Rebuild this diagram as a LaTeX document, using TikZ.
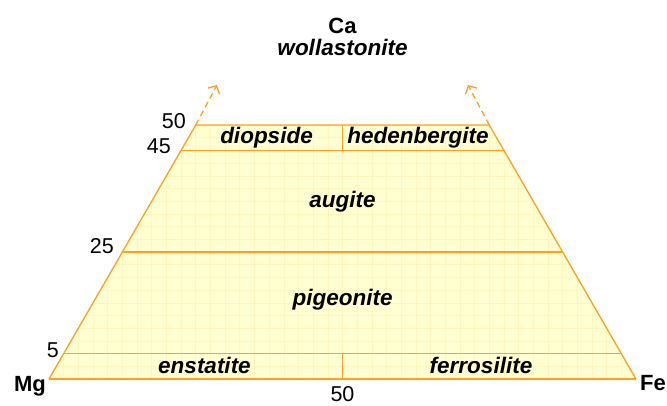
\documentclass[tikz,border=0pt]{standalone}
\usepackage{fontspec}
\setmainfont{Liberation Sans}
\usetikzlibrary{arrows.meta}
\definecolor{lineorange}{RGB}{255,160,30}
\definecolor{fillyellow}{RGB}{255,255,210}
\definecolor{gridyellow}{RGB}{255,246,190}
\begin{document}
\begin{tikzpicture}[x=1pt, y=-1pt, >={Straight Barb[length=6pt, width=13pt, line width=1.3pt]},
  edge/.style={lineorange, line width=1.3pt},
  mineral/.style={font=\fontsize{22.5}{26}\selectfont\bfseries\itshape, inner sep=0pt, anchor=base},
  corner/.style={font=\fontsize{22}{26}\selectfont\bfseries, inner sep=0pt, anchor=base},
  tick/.style={font=\fontsize{21.5}{26}\selectfont, inner sep=0pt, anchor=base east}]
  \useasboundingbox (0,0) rectangle (667,405);

  % Corners and level points
  \coordinate (Mg) at (49,379);
  \coordinate (Fe) at (636,379);
  \coordinate (L5) at (63.7,353.6);   \coordinate (R5) at (621.3,353.6);
  \coordinate (L25) at (122.4,252);   \coordinate (R25) at (562.6,252);
  \coordinate (L45) at (181.1,150.4); \coordinate (R45) at (503.9,150.4);
  \coordinate (L50) at (195.75,125);  \coordinate (R50) at (489.25,125);
  \coordinate (Bmid) at (342.5,379);  \coordinate (B5) at (342.5,353.6);
  \coordinate (T50) at (342.5,125);   \coordinate (T45) at (342.5,150.4);
  \coordinate (TipL) at (217,85);     \coordinate (TipR) at (468,85);

  % Fill with faint grid
  \fill[fillyellow] (Mg) -- (L50) -- (R50) -- (Fe) -- cycle;
  \begin{scope}
    \clip (Mg) -- (L50) -- (R50) -- (Fe) -- cycle;
    \foreach \x in {0,...,45} \draw[gridyellow, line width=0.6pt] (49+\x*14.675,100) -- (49+\x*14.675,380);
    \foreach \y in {0,...,20} \draw[gridyellow, line width=0.6pt] (40,379-\y*12.7) -- (640,379-\y*12.7);
  \end{scope}

  % Outline and field boundaries
  \draw[edge] (Fe) -- (R50) -- (L50) -- (Mg);
  \draw[edge, line width=1.8pt] (Mg) -- (Fe);
  \draw[edge] (L45) -- (R45);
  \draw[edge] (L25) -- (R25);
  \draw[edge] (L5) -- (R5);
  \draw[edge] (T50) -- (T45);
  \draw[edge] (B5) -- (Bmid);

  % Towards wollastonite
  \draw[->, edge, dash pattern=on 6pt off 4pt] (L50) -- (TipL);
  \draw[->, edge, dash pattern=on 6pt off 4pt] (R50) -- (TipR);

  % Corner labels
  \node[corner] (ca) at (342.5,33) {Ca};
  \node[mineral] (wo) at (342.5,55) {wollastonite};
  \node[corner, anchor=base east] (mg) at (46,391.5) {Mg};
  \node[corner, anchor=base west] (fe) at (640,390.5) {Fe};

  % Ca percentages
  \node[tick] (t50) at (186,128) {50};
  \node[tick] (t45) at (171,153) {45};
  \node[tick] (t25) at (114,253) {25};
  \node[tick] (t5) at (59,357) {5};
  \node[tick, anchor=base] (b50) at (342.5,401) {50};

  % Mineral fields
  \node[mineral] (di) at (266.5,143) {diopside};
  \node[mineral] (hd) at (418,143) {hedenbergite};
  \node[mineral] (aug) at (342.5,207) {augite};
  \node[mineral] (pig) at (342.5,305) {pigeonite};
  \node[mineral] (en) at (204.5,373) {enstatite};
  \node[mineral] (fs) at (481,373) {ferrosilite};
\end{tikzpicture}
\end{document}
